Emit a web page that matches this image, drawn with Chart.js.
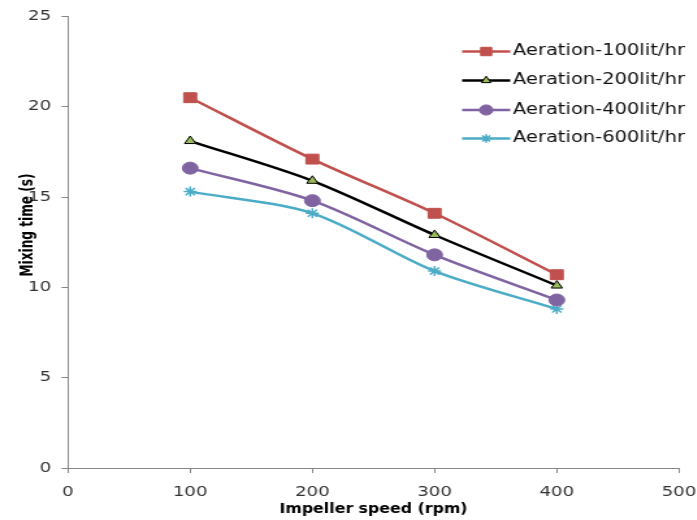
<!DOCTYPE html>
<html>
<head>
<meta charset="utf-8">
<script src="https://cdn.jsdelivr.net/npm/chart.js@4"></script>
<style>
  html, body { margin: 0; padding: 0; background: #fff; overflow: hidden; }
  /* the source picture is stretched sideways, so we draw narrow and widen it */
  #wrap { width: 536px; height: 520px; transform: scaleX(1.3); transform-origin: 0 0; }
</style>
</head>
<body>
<div id="wrap"><canvas id="chart"></canvas></div>
<script>
const speeds = [100, 200, 300, 400];
const seriesNames = ["Aeration-100lit/hr", "Aeration-200lit/hr", "Aeration-400lit/hr", "Aeration-600lit/hr"];
const aer100 = [20.5, 17.1, 14.1, 10.7];
const aer200 = [18.1, 15.9, 12.9, 10.1];
const aer400 = [16.6, 14.8, 11.8, 9.3];
const aer600 = [15.3, 14.1, 10.9, 8.8];
const xTicks = [0, 100, 200, 300, 400, 500];
const yTicks = [0, 5, 10, 15, 20, 25];

const TICK_FONT = { family: "'DejaVu Sans', Verdana, sans-serif", size: 14 };
const TITLE_FONT = "bold 13.5px 'DejaVu Sans Condensed', 'DejaVu Sans', sans-serif";
const AXIS = "#868686";

function pts(vals) { return speeds.map((x, i) => ({ x, y: vals[i] })); }

const styles = [
  { line: "#C0504D", fill: "#C0504D", edge: "#C0504D", style: "rect", r: 7, bw: 1 },
  { line: "#000000", fill: "#9BBB59", edge: "#000000", style: "triangle", r: 5, bw: 1 },
  { line: "#8064A2", fill: "#8064A2", edge: "#8064A2", style: "circle", r: 6, bw: 1 },
  { line: "#4BACC6", fill: "#4BACC6", edge: "#4BACC6", style: "star", r: 5, bw: 1.5 },
];

const datasets = [aer100, aer200, aer400, aer600].map((vals, i) => ({
  label: seriesNames[i],
  data: pts(vals),
  borderColor: styles[i].line,
  borderWidth: 2.5,
  tension: 0.3,
  pointStyle: styles[i].style,
  pointRadius: styles[i].r,
  pointBackgroundColor: styles[i].fill,
  pointBorderColor: styles[i].edge,
  pointBorderWidth: styles[i].bw,
  fill: false,
}));

// legend drawn inside the plot, Excel style: short line with the marker on it
const insideLegend = {
  id: "insideLegend",
  afterDatasetsDraw(chart) {
    const ctx = chart.ctx;
    const x0 = 355.5, x1 = 392.5, tx = 394.5;
    const rows = [51.5, 80.5, 110, 138.5];
    ctx.save();
    chart.data.datasets.forEach((ds, i) => {
      const y = rows[i];
      ctx.strokeStyle = ds.borderColor;
      ctx.lineWidth = 2.5;
      ctx.beginPath();
      ctx.moveTo(x0, y);
      ctx.lineTo(x1, y);
      ctx.stroke();
      ctx.fillStyle = ds.pointBackgroundColor;
      ctx.strokeStyle = ds.pointBorderColor;
      ctx.lineWidth = ds.pointBorderWidth;
      Chart.helpers.drawPoint(ctx, {
        pointStyle: ds.pointStyle, rotation: 0,
        radius: ds.pointRadius * 0.85, borderWidth: ds.pointBorderWidth,
      }, (x0 + x1) / 2, y);
      ctx.fillStyle = "#111";
      ctx.font = "15px 'DejaVu Sans', Verdana, sans-serif";
      ctx.textAlign = "left";
      ctx.textBaseline = "middle";
      ctx.fillText(ds.label, tx, y);
    });
    ctx.restore();
  },
};

// y title sits a bit above the middle and overlaps the tick labels, as in the source
const yTitle = {
  id: "yTitle",
  afterDraw(chart) {
    const ctx = chart.ctx;
    ctx.save();
    ctx.translate(21, 225);
    ctx.rotate(-Math.PI / 2);
    ctx.font = TITLE_FONT;
    ctx.fillStyle = "#000";
    ctx.textAlign = "center";
    ctx.textBaseline = "middle";
    ctx.fillText("Mixing time (s)", 0, 0);
    ctx.restore();
  },
};

new Chart(document.getElementById("chart"), {
  type: "line",
  data: { datasets },
  options: {
    responsive: true,
    maintainAspectRatio: false,
    animation: false,
    layout: { padding: { top: 15, right: 13.7, left: 0, bottom: 0 } },
    plugins: { legend: { display: false }, tooltip: { enabled: false } },
    scales: {
      x: {
        type: "linear",
        min: 0, max: 500,
        afterBuildTicks: (s) => { s.ticks = xTicks.map(v => ({ value: v })); },
        afterFit: (s) => { s.height = 52; s.paddingLeft = 0; s.paddingRight = 0; },
        grid: { drawOnChartArea: false, color: AXIS, tickLength: 5, tickColor: AXIS },
        border: { color: AXIS, width: 1 },
        ticks: { font: TICK_FONT, color: "#333", padding: 11, maxRotation: 0 },
        title: {
          display: true, text: "Impeller speed (rpm)", color: "#000",
          font: { family: "'DejaVu Sans Condensed', 'DejaVu Sans', sans-serif", size: 13.5, weight: "bold" },
          padding: { top: 0, bottom: 2 },
        },
      },
      y: {
        min: 0, max: 25,
        afterBuildTicks: (s) => { s.ticks = yTicks.map(v => ({ value: v })); },
        afterFit: (s) => { s.width = 52.3; },
        grid: { drawOnChartArea: false, color: AXIS, tickLength: 5, tickColor: AXIS },
        border: { color: AXIS, width: 1 },
        ticks: { font: TICK_FONT, color: "#333", padding: 8 },
      },
    },
  },
  plugins: [insideLegend, yTitle],
});
</script>
</body>
</html>
